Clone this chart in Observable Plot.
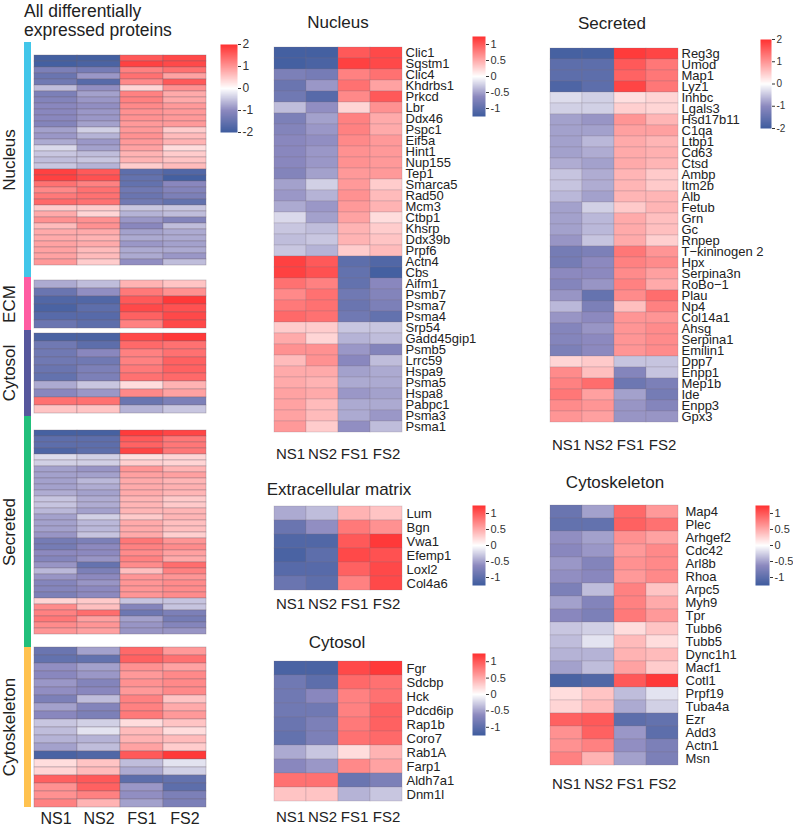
<!DOCTYPE html>
<html><head><meta charset="utf-8">
<script src="https://cdn.jsdelivr.net/npm/d3@7"></script>
<script src="https://cdn.jsdelivr.net/npm/@observablehq/plot@0.6"></script>
<style>
body{margin:0;background:#fff;}
#root{position:relative;width:793px;height:826px;font-family:Arial,"Liberation Sans",sans-serif;color:#222;overflow:hidden;background:#fff}
.title{position:absolute;font-size:17px;white-space:nowrap;transform:translateX(-50%);line-height:20px}
.ltitle{position:absolute;font-size:17.5px;line-height:19px;white-space:nowrap}
.glabel{position:absolute;font-size:17px;white-space:nowrap;transform:translate(-50%,-50%) rotate(-90deg)}
.bar{position:absolute}
</style></head><body><div id="root"></div>
<script>
const samples = ["NS1","NS2","FS1","FS2"];

const nucleusGenes = ["Clic1","Sqstm1","Clic4","Khdrbs1","Prkcd","Lbr","Ddx46","Pspc1","Eif5a","Hint1","Nup155","Tep1","Smarca5","Rad50","Mcm3","Ctbp1","Khsrp","Ddx39b","Prpf6","Actn4","Cbs","Aifm1","Psmb7","Psma7","Psma4","Srp54","Gadd45gip1","Psmb5","Lrrc59","Hspa9","Psma5","Hspa8","Pabpc1","Psma3","Psma1"];
const nucleusValues = [
 [-1.2,-1.2,1.0,1.1],[-1.2,-1.15,1.15,1.1],[-0.75,-0.8,0.75,0.85],[-0.9,-0.55,0.85,0.55],[-0.85,-1.05,0.7,1.0],
 [-0.35,-0.6,0.25,0.65],[-0.75,-0.5,0.75,0.5],[-0.7,-0.55,0.75,0.5],[-0.65,-0.6,0.7,0.6],[-0.65,-0.55,0.65,0.6],
 [-0.65,-0.55,0.65,0.6],[-0.7,-0.5,0.6,0.6],[-0.5,-0.25,0.6,0.3],[-0.55,-0.4,0.65,0.4],[-0.45,-0.55,0.6,0.45],
 [-0.2,-0.5,0.55,0.2],[-0.3,-0.35,0.45,0.3],[-0.35,-0.3,0.45,0.35],[-0.3,-0.4,0.3,0.4],
 [1.15,1.0,-1.0,-1.1],[1.15,1.05,-0.95,-1.2],[0.85,0.75,-0.95,-0.65],[0.7,0.85,-0.85,-0.7],[0.8,0.85,-0.9,-0.75],
 [0.9,0.85,-0.85,-0.95],[0.3,0.3,-0.3,-0.3],[0.5,0.25,-0.4,-0.35],[0.65,0.65,-0.55,-0.7],[0.4,0.65,-0.65,-0.35],
 [0.5,0.5,-0.5,-0.45],[0.5,0.45,-0.45,-0.45],[0.55,0.5,-0.55,-0.5],[0.55,0.4,-0.45,-0.45],[0.55,0.4,-0.45,-0.55],
 [0.6,0.3,-0.6,-0.35]
];

const ecmGenes = ["Lum","Bgn","Vwa1","Efemp1","Loxl2","Col4a6"];
const ecmValues = [
 [-0.45,-0.35,0.45,0.35],[-0.9,-0.6,0.8,0.65],[-1.1,-1.1,1.0,1.2],[-1.15,-1.0,1.1,1.05],[-1.05,-1.05,0.95,1.1],[-0.9,-1.0,0.75,1.1]
];

const cytosolGenes = ["Fgr","Sdcbp","Hck","Pdcd6ip","Rap1b","Coro7","Rab1A","Farp1","Aldh7a1","Dnm1l"];
const cytosolValues = [
 [-1.15,-1.15,1.1,1.2],[-0.85,-1.0,0.9,0.85],[-0.85,-0.65,0.75,0.85],[-0.85,-0.85,0.75,0.95],[-0.9,-0.75,0.8,0.95],
 [-0.95,-0.75,0.85,0.9],[-0.45,-0.3,0.2,0.45],[-0.65,-0.55,0.7,0.55],[0.85,0.85,-0.9,-0.75],[0.35,0.35,-0.4,-0.3]
];

const secretedGenes = ["Reg3g","Umod","Map1","Lyz1","Inhbc","Lgals3","Hsd17b11","C1qa","Ltbp1","Cd63","Ctsd","Ambp","Itm2b","Alb","Fetub","Grn","Gc","Rnpep","T\u2212kininogen 2","Hpx","Serpina3n","RoBo\u22121","Plau","Np4","Col14a1","Ahsg","Serpina1","Emilin1","Dpp7","Enpp1","Mep1b","Ide","Enpp3","Gpx3"];
const secretedValues = [
 [-1.9,-1.9,1.9,1.8],[-1.6,-1.6,1.6,1.3],[-1.6,-1.6,1.5,1.3],[-1.8,-1.6,1.8,1.3],[-0.3,-0.4,0.3,0.4],
 [-0.4,-0.4,0.45,0.4],[-0.8,-0.9,1.0,0.7],[-0.8,-0.8,0.9,0.9],[-0.8,-0.6,0.8,0.7],[-0.8,-0.7,0.8,0.75],
 [-0.7,-0.8,0.8,0.7],[-0.5,-0.7,0.7,0.5],[-0.5,-0.7,0.7,0.5],[-0.6,-0.8,0.7,0.7],[-0.8,-0.4,0.5,0.7],
 [-0.8,-0.6,0.8,0.6],[-0.8,-0.6,0.8,0.6],[-0.9,-0.5,0.8,0.45],[-1.3,-1.2,1.3,1.0],[-1.3,-1.0,1.2,1.1],
 [-1.0,-1.0,1.1,0.9],[-1.1,-0.9,1.2,0.8],[-0.9,-1.5,1.1,1.4],[-0.6,-1.2,0.6,1.2],[-0.9,-1.0,1.0,1.0],
 [-1.1,-0.9,1.0,1.1],[-1.1,-1.0,1.0,1.1],[-1.2,-1.0,1.0,1.1],[0.4,0.5,-0.5,-0.5],[1.1,0.6,-1.1,-0.5],
 [1.2,1.4,-1.4,-1.2],[1.3,0.9,-0.8,-1.3],[1.1,1.0,-0.9,-1.1],[1.0,0.9,-0.9,-0.9]
];

const cytoskeletonGenes = ["Map4","Plec","Arhgef2","Cdc42","Arl8b","Rhoa","Arpc5","Myh9","Tpr","Tubb6","Tubb5","Dync1h1","Macf1","Cotl1","Prpf19","Tuba4a","Ezr","Add3","Actn1","Msn"];
const cytoskeletonValues = [
 [-0.9,-0.5,0.9,0.6],[-0.95,-0.95,0.95,0.85],[-0.6,-0.5,0.65,0.55],[-0.65,-0.55,0.6,0.7],[-0.55,-0.7,0.65,0.7],
 [-0.6,-0.65,0.6,0.7],[-0.75,-0.35,0.75,0.35],[-0.5,-0.7,0.75,0.5],[-0.65,-0.75,0.8,0.6],[-0.3,-0.25,0.2,0.35],
 [-0.35,-0.15,0.4,0.2],[-0.4,-0.4,0.45,0.4],[-0.5,-0.35,0.55,0.3],[-1.15,-1.1,1.0,1.2],[0.2,0.35,-0.35,-0.15],
 [0.25,0.4,-0.45,-0.25],[0.95,1.0,-1.0,-0.95],[0.65,0.95,-0.55,-1.0],[0.65,0.75,-0.6,-0.75],[0.75,0.45,-0.5,-0.75]
];

const groupNames = ["Nucleus","ECM","Cytosol","Secreted","Cytoskeleton"];
const legendTicks1 = [-1,-0.5,0,0.5,1];
const legendTicks2 = [-2,-1,0,1,2];

const FONT = 'Arial, "Liberation Sans", sans-serif';
const root = document.getElementById("root");

function palette(m){
  return {type:"linear", domain:[-m,-m/2,0,m/2,m],
    range:["#3e5c9e","#8c89bf","#ffffff","#ff9595","#ff3131"], clamp:true};
}
function cells(genes, values, k=1){
  return genes.flatMap((g,i)=>samples.map((s,j)=>({gene:g, sample:s, value:values[i][j]*k})));
}
function place(el, left, top){
  el.style.position="absolute"; el.style.left=left+"px"; el.style.top=top+"px";
  el.style.maxWidth="none"; el.style.overflow="visible";
  root.appendChild(el);
}
function div(cls, text, left, top){
  const d=document.createElement("div"); d.className=cls; d.textContent=text;
  d.style.left=left+"px"; d.style.top=top+"px"; root.appendChild(d); return d;
}

function panel({genes, values, m, left, top, width, height, labelPad=2}){
  const mr=100, mb=26;
  const svg = Plot.plot({
    width: width+mr, height: height+mb,
    marginLeft:0, marginRight:mr, marginTop:0, marginBottom:mb,
    x:{domain:samples, padding:0, label:null},
    y:{domain:genes, padding:0, label:null},
    color: palette(m),
    style:{fontFamily:FONT, color:"#222", background:"transparent"},
    marks:[
      Plot.cell(cells(genes, values), {x:"sample", y:"gene", fill:"value", stroke:"#7d707d", strokeOpacity:0.3, strokeWidth:0.7}),
      Plot.axisX({tickSize:0, tickPadding:6, fontSize:15, label:null}),
      Plot.axisY({anchor:"right", tickSize:0, tickPadding:labelPad, fontSize:13, label:null})
    ]
  });
  place(svg, left, top);
}

function legend({m, ticks, left, top, width, height, fontSize=11}){
  const svg = Plot.plot({
    width: width+34, height: height,
    marginLeft:0, marginRight:34, marginTop:0, marginBottom:0,
    x:{domain:[0,1], axis:null},
    y:{domain:[-m,m], label:null},
    color: palette(m),
    style:{fontFamily:FONT, color:"#333", background:"transparent"},
    marks:[
      Plot.raster({fill:(x,y)=>y, x1:0, x2:1, y1:-m, y2:m, width:1, height:200}),
      Plot.axisY({anchor:"right", ticks, tickSize:3, tickPadding:2, fontSize, label:null,
        tickFormat:d=>(d<0?"-":"")+Math.abs(d)})
    ]
  });
  place(svg, left, top);
}

// ---- Left combined heatmap ----
const groups = [
  {genes:nucleusGenes, values:nucleusValues, m:1.25, top:42, h:235, color:"#42c6e9"},
  {genes:ecmGenes, values:ecmValues, m:1.25, top:277, h:53, color:"#ff5ca2"},
  {genes:cytosolGenes, values:cytosolValues, m:1.25, top:330, h:86, color:"#56579c"},
  {genes:secretedGenes, values:secretedValues, m:2, top:416, h:231, color:"#22bf7b"},
  {genes:cytoskeletonGenes, values:cytoskeletonValues, m:1.25, top:647, h:160, color:"#ffc24f"}
];
groups.forEach((g,i)=>{
  const last = i===groups.length-1;
  const mb = last?26:0;
  const svg = Plot.plot({
    width:173, height:g.h+mb,
    marginLeft:0, marginRight:0, marginTop:0, marginBottom:mb,
    x: last ? {domain:samples, padding:0, label:null} : {domain:samples, padding:0, label:null, axis:null},
    y:{domain:g.genes, padding:0, axis:null},
    color: palette(2),
    style:{fontFamily:FONT, color:"#222", background:"transparent"},
    marks:[
      Plot.cell(cells(g.genes, g.values, 2/g.m), {x:"sample", y:"gene", fill:"value", stroke:"#6e5f6e", strokeOpacity:0.45, strokeWidth:0.7}),
      last ? Plot.axisX({tickSize:0, tickPadding:5, fontSize:16, label:null}) : null
    ]
  });
  place(svg, 33, g.top);
  const b=document.createElement("div"); b.className="bar";
  Object.assign(b.style,{left:"24px", top:g.top+"px", width:"7px", height:g.h+"px", background:g.color});
  root.appendChild(b);
  div("glabel", groupNames[i], 10, g.top+g.h/2);
});
const lt = div("ltitle", "", 24, 2);
lt.innerHTML = "All differentially<br>expressed proteins";
legend({m:2, ticks:legendTicks2, left:220, top:44, width:17, height:88, fontSize:12});

// ---- Sub panels ----
panel({genes:nucleusGenes, values:nucleusValues, m:1.25, left:273, top:36, width:130, height:406, labelPad:2});
legend({m:1.25, ticks:legendTicks1, left:472, top:36, width:13, height:80});
div("title","Nucleus",338,13);

panel({genes:ecmGenes, values:ecmValues, m:1.25, left:273, top:503, width:130, height:89, labelPad:3});
legend({m:1.25, ticks:legendTicks1, left:472, top:505, width:13, height:80});
div("title","Extracellular matrix",339,480);

panel({genes:cytosolGenes, values:cytosolValues, m:1.25, left:273, top:657, width:130, height:148, labelPad:3});
legend({m:1.25, ticks:legendTicks1, left:472, top:653, width:13, height:82});
div("title","Cytosol",337,633);

panel({genes:secretedGenes, values:secretedValues, m:2, left:549, top:36, width:129, height:397, labelPad:3});
legend({m:2, ticks:legendTicks2, left:760, top:39, width:11, height:89, fontSize:10});
div("title","Secreted",612,14);

panel({genes:cytoskeletonGenes, values:cytoskeletonValues, m:1.25, left:549, top:497, width:129, height:275, labelPad:7});
legend({m:1.25, ticks:legendTicks1, left:755, top:505, width:14, height:80});
div("title","Cytoskeleton",615,473);
</script></body></html>
